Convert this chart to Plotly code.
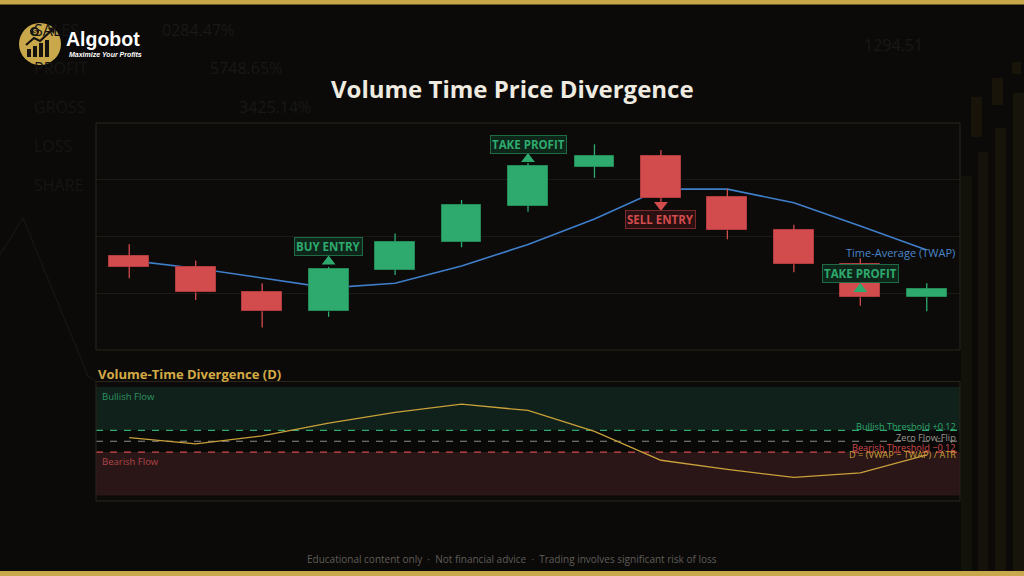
import plotly.graph_objects as go

# ── Data ───────────────────────────────────────────────────────────────────
bars_idx   = list(range(13))
open_px    = [99.32, 98.94, 98.04, 97.36, 98.83, 99.81, 101.09, 102.46, 102.85, 101.38, 100.22, 99.03, 97.86]
high_px    = [99.73, 99.15, 98.35, 98.93, 100.11, 101.29, 102.59, 103.25, 103.05, 101.68, 100.41, 99.23, 98.35]
low_px     = [98.53, 97.76, 96.79, 97.17, 98.64, 99.62, 100.87, 102.07, 101.18, 99.90, 98.74, 97.56, 97.37]
close_px   = [98.94, 98.03, 97.37, 98.84, 99.82, 101.10, 102.47, 102.85, 101.37, 100.22, 99.02, 97.86, 98.16]
twap       = [99.16, 98.88, 98.54, 98.19, 98.35, 98.96, 99.72, 100.62, 101.67, 101.67, 101.19, 100.37, 99.52]
divergence = [0.04, -0.03, 0.06, 0.20, 0.32, 0.41, 0.34, 0.11, -0.21, -0.31, -0.40, -0.35, -0.15]

signal_idx   = [3, 6, 8, 11]
signal_price = [99.12, 102.73, 101.11, 98.15]
signal_text  = ["BUY ENTRY", "TAKE PROFIT", "SELL ENTRY", "TAKE PROFIT"]
signal_dir   = ["up", "up", "down", "up"]

BULL_TH, BEAR_TH, FLOW_MAX = 0.12, -0.12, 0.6

bg_stats = [("SALES", "0284.47%"), ("PROFIT", "5748.65%"), ("GROSS", "3425.14%"),
            ("LOSS", ""), ("SHARE", "")]

# ── Colours ────────────────────────────────────────────────────────────────
BG      = "#0b0a09"
PANEL   = "#0c0b0a"
BORDER  = "#2b2619"
GOLD    = "#c9a84c"
GREEN   = "#2eaa6e"
GREEN_D = "#248a58"
RED     = "#d24b4d"
RED_D   = "#b23c3f"
BLUE    = "#3f7fca"
DLINE   = "#c9a03a"
FONT    = "Open Sans, Noto Sans, sans-serif"
LOGO_F  = "Liberation Sans, Arial"

W, H = 1024, 576
def px(x): return x / W
def py(y): return 1 - y / H

fig = go.Figure()

# TWAP (base axis, drawn underneath candles)
fig.add_trace(go.Scatter(x=bars_idx, y=twap, mode="lines",
                         line=dict(color=BLUE, width=1.6), xaxis="x", yaxis="y",
                         hoverinfo="skip"))

# candle bodies + wicks on overlay axis
is_up = [c >= o for o, c in zip(open_px, close_px)]
fig.add_trace(go.Bar(
    x=bars_idx,
    base=[min(o, c) for o, c in zip(open_px, close_px)],
    y=[abs(c - o) for o, c in zip(open_px, close_px)],
    width=0.6,
    marker=dict(color=[GREEN if u else RED for u in is_up],
                line=dict(color=[GREEN_D if u else RED_D for u in is_up], width=1)),
    xaxis="x", yaxis="y3", hoverinfo="skip",
))
for up, col in [(True, GREEN), (False, RED)]:
    wx, wy = [], []
    for i, u in enumerate(is_up):
        if u == up:
            wx += [i, i, None, i, i, None]
            wy += [high_px[i], max(open_px[i], close_px[i]), None,
                   min(open_px[i], close_px[i]), low_px[i], None]
    fig.add_trace(go.Scatter(x=wx, y=wy, mode="lines", line=dict(color=col, width=1.3),
                             xaxis="x", yaxis="y3", hoverinfo="skip"))

# signal triangles
fig.add_trace(go.Scatter(
    x=signal_idx, y=signal_price, mode="markers",
    marker=dict(symbol=["triangle-up" if d == "up" else "triangle-down" for d in signal_dir],
                size=12, color=[RED if d == "down" else GREEN for d in signal_dir]),
    xaxis="x", yaxis="y3", hoverinfo="skip",
))

# divergence line
fig.add_trace(go.Scatter(x=bars_idx, y=divergence, mode="lines",
                         line=dict(color=DLINE, width=1.3), xaxis="x2", yaxis="y2",
                         hoverinfo="skip"))

# ── Shapes ─────────────────────────────────────────────────────────────────
shapes = []
# gold bars top/bottom
shapes.append(dict(type="rect", xref="paper", yref="paper", x0=0, x1=1, y0=py(4.5), y1=1,
                   fillcolor=GOLD, line_width=0, layer="below"))
shapes.append(dict(type="rect", xref="paper", yref="paper", x0=0, x1=1, y0=0, y1=py(571),
                   fillcolor=GOLD, line_width=0, layer="below"))
# faint background bars right side
for x0, x1, top, col in [(961, 972, 176, "#12110a"), (978, 988, 152, "#14120a"),
                         (995, 1006, 128, "#15130a"), (1013, 1024, 93, "#17140b")]:
    shapes.append(dict(type="rect", xref="paper", yref="paper", x0=px(x0), x1=px(x1),
                       y0=py(571), y1=py(top), fillcolor=col, line_width=0, layer="below"))
for x0, x1, top, bot in [(971, 982, 97, 137), (992, 1003, 78, 105), (1012, 1021, 62, 74)]:
    shapes.append(dict(type="rect", xref="paper", yref="paper", x0=px(x0), x1=px(x1),
                       y0=py(bot), y1=py(top), fillcolor="#181409", line_width=0, layer="below"))
# faint zigzag on left
shapes.append(dict(type="path", xref="paper", yref="paper", layer="below",
                   path=f"M 0 {py(255)} L {px(23)} {py(218)} L {px(88)} {py(376)} L {px(96)} {py(381)}",
                   line=dict(color="#171614", width=1.2)))

# divergence bands
shapes += [
    dict(type="rect", xref="x2 domain", yref="y2", x0=0, x1=1, y0=BULL_TH, y1=FLOW_MAX,
         fillcolor="#10201a", line_width=0, layer="below"),
    dict(type="rect", xref="x2 domain", yref="y2", x0=0, x1=1, y0=BEAR_TH, y1=BULL_TH,
         fillcolor="#090908", line_width=0, layer="below"),
    dict(type="rect", xref="x2 domain", yref="y2", x0=0, x1=1, y0=-FLOW_MAX, y1=BEAR_TH,
         fillcolor="#2a1517", line_width=0, layer="below"),
]
for yv, col in [(BULL_TH, GREEN), (0, "#8c8a86"), (BEAR_TH, RED)]:
    shapes.append(dict(type="line", xref="x2 domain", yref="y2", x0=0, x1=1, y0=yv, y1=yv,
                       line=dict(color=col, width=1.2, dash="7px,7px"), layer="below"))
# panel borders
for xr, yr in [("x domain", "y domain"), ("x2 domain", "y2 domain")]:
    shapes.append(dict(type="rect", xref=xr, yref=yr, x0=0, x1=1, y0=0, y1=1,
                       line=dict(color=BORDER, width=1), fillcolor="rgba(0,0,0,0)", layer="above"))

# logo
shapes.append(dict(type="circle", xref="paper", yref="paper", x0=px(19), x1=px(61),
                   y0=py(65), y1=py(23), fillcolor=GOLD, line_width=0))
for x0, x1, top in [(27, 31, 49), (33, 37, 46), (39, 43, 43), (45, 49, 40)]:
    shapes.append(dict(type="rect", xref="paper", yref="paper", x0=px(x0), x1=px(x1),
                       y0=py(57), y1=py(top), fillcolor="#151310", line_width=0))
shapes.append(dict(type="path", xref="paper", yref="paper",
                   path=f"M {px(26)} {py(45)} L {px(34)} {py(38)} L {px(40)} {py(41)} L {px(52)} {py(30)}",
                   line=dict(color="#151310", width=2.2)))
shapes.append(dict(type="path", xref="paper", yref="paper",
                   path=f"M {px(55)} {py(27)} L {px(48)} {py(28)} L {px(54)} {py(34)} Z",
                   fillcolor="#151310", line_width=0))
shapes.append(dict(type="circle", xref="paper", yref="paper", x0=px(30), x1=px(39),
                   y0=py(36), y1=py(27), fillcolor="#151310", line_width=0))

# ── Annotations ────────────────────────────────────────────────────────────
def note(x, y, text, size, color, family=FONT, xanchor="left", **kw):
    return dict(x=x, y=y, xref="paper", yref="paper", text=text, showarrow=False,
                xanchor=xanchor, yanchor="middle",
                font=dict(family=family, size=size, color=color), **kw)

ann = []
for (lab, val), yy in zip(bg_stats, [30, 68, 107, 146, 185]):
    ann.append(note(px(32), py(yy), lab, 16, "#161513"))
for val, (xx, yy) in zip([s[1] for s in bg_stats[:3]], [(160, 30), (208, 68), (237, 107)]):
    ann.append(note(px(xx), py(yy), val, 16, "#191815"))
ann.append(note(px(862), py(45), "1294.51", 16, "#191815"))

ann.append(note(px(34.5), py(31.5), "<b>$</b>", 7, GOLD, family=LOGO_F, xanchor="center"))
ann.append(note(px(64), py(39), "<b>Algobot</b>", 19.5, "#ffffff", family=LOGO_F))
ann.append(note(px(67), py(54), "<b><i>Maximize Your Profits</i></b>", 7, "#ffffff", family=LOGO_F))

ann.append(note(0.5, py(88), "<b>Volume Time Price Divergence</b>", 24, "#efebe0", xanchor="center"))

for i, pr, txt, d in zip(signal_idx, signal_price, signal_text, signal_dir):
    col = RED if d == "down" else GREEN
    ann.append(dict(x=i, y=pr, xref="x", yref="y3", text=f"<b>{txt}</b>", showarrow=False,
                    xanchor="center", yanchor="middle",
                    yshift=-15 if d == "down" else 15,
                    font=dict(family=FONT, size=11.5, color=col),
                    bgcolor="#2a1011" if d == "down" else "#0e2519",
                    bordercolor="#7a2a2c" if d == "down" else "#1d6a44",
                    borderwidth=1, borderpad=1))

ann.append(note(px(957), py(252), "Time-Average (TWAP)", 11, "#4a86c8", xanchor="right"))

ann.append(note(px(96), py(374), "<b>Volume-Time Divergence (D)</b>", 13, "#d4aa45"))
ann.append(note(px(100), py(396), "Bullish Flow", 9.5, "#2d9462"))
ann.append(note(px(100), py(461), "Bearish Flow", 9.5, "#b24648"))
for txt, yy, col in [("Bullish Threshold +0.12", 426, GREEN), ("Zero Flow-Flip", 437, "#9a9893"),
                     ("Bearish Threshold −0.12", 447, RED), ("D = (VWAP − TWAP) / ATR", 454, DLINE)]:
    ann.append(note(px(958), py(yy), txt, 9.2, col, xanchor="right"))

ann.append(note(0.5, py(558.5),
                "Educational content only  ·  Not financial advice  ·  Trading involves significant risk of loss",
                10, "#5f5d58", xanchor="center"))

# ── Layout ─────────────────────────────────────────────────────────────────
x_dom = [px(96), px(960)]
hidden = dict(showgrid=False, zeroline=False, showticklabels=False, ticks="", showline=False)
fig.update_layout(
    width=W, height=H,
    margin=dict(l=0, r=0, t=0, b=0),
    paper_bgcolor=BG, plot_bgcolor=PANEL,
    showlegend=False,
    bargap=0,
    xaxis=dict(domain=x_dom, range=[-0.5, 12.5], anchor="y", **hidden),
    yaxis=dict(domain=[py(350), py(123)], range=[96, 104], anchor="x",
               showgrid=True, gridcolor="#1c1a16", gridwidth=1, dtick=2, tick0=96,
               zeroline=False, showticklabels=False, ticks=""),
    yaxis3=dict(overlaying="y", range=[96, 104], anchor="x", **hidden),
    xaxis2=dict(domain=x_dom, range=[-0.5, 12.5], anchor="y2", **hidden),
    yaxis2=dict(domain=[py(501), py(381.5)], range=[-0.66, 0.66], anchor="x2", **hidden),
    shapes=shapes,
    annotations=ann,
    font=dict(family=FONT, color="#efebe0"),
)

fig.write_html("out.html", config={"displayModeBar": False},
               post_script="document.body.style.margin='0';document.body.style.overflow='hidden';")
